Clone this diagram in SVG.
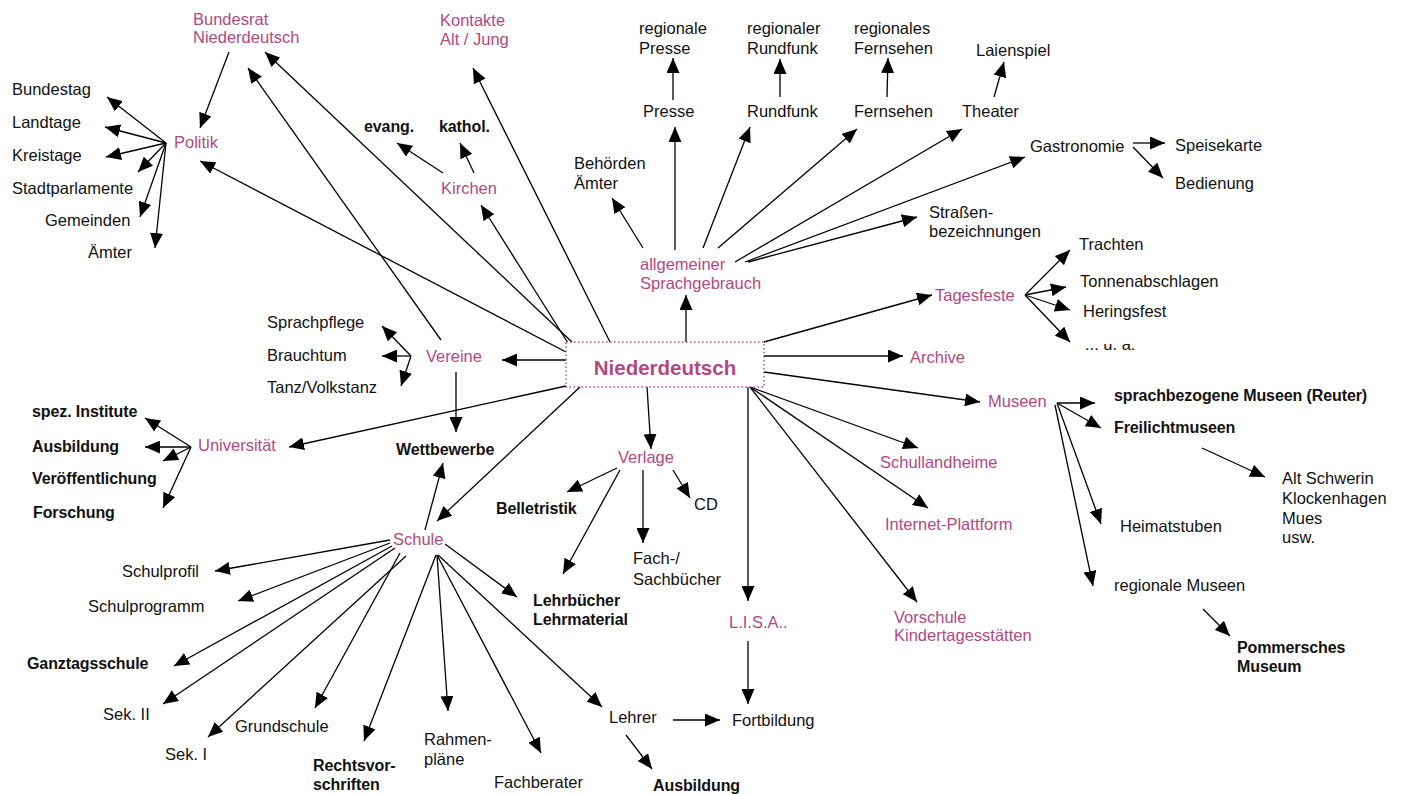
<svg xmlns="http://www.w3.org/2000/svg" width="1403" height="794" viewBox="0 0 1403 794">
<style>
text{font-family:"Liberation Sans",Arial,sans-serif;font-size:16.5px;fill:#111}
.p{fill:#b04a80}
.bb{font-weight:bold;font-size:16px;letter-spacing:-0.1px}
.t{font-weight:bold;font-size:20.5px;fill:#b04a80;text-anchor:middle}
#edges line{stroke:#000;stroke-width:1.3;marker-end:url(#ah)}
</style>
<defs>
<marker id="ah" markerUnits="userSpaceOnUse" markerWidth="15" markerHeight="13" refX="15" refY="6.5" orient="auto"><path d="M0,0 L15,6.5 L0,13 z" fill="#000"/></marker>
<clipPath id="cua"><rect x="1080" y="344" width="80" height="9"/></clipPath>
</defs>
<rect width="1403" height="794" fill="#fff"/>
<g id="edges">
<line x1="166" y1="143" x2="107" y2="97"/>
<line x1="166" y1="143" x2="105" y2="127"/>
<line x1="166" y1="143" x2="106" y2="157"/>
<line x1="166" y1="143" x2="138" y2="172"/>
<line x1="166" y1="143" x2="140" y2="217"/>
<line x1="166" y1="143" x2="155" y2="248"/>
<line x1="229" y1="52" x2="200" y2="128"/>
<line x1="566" y1="352" x2="200" y2="161"/>
<line x1="573" y1="343" x2="265" y2="52"/>
<line x1="441" y1="340" x2="248" y2="68"/>
<line x1="568" y1="343" x2="481" y2="205"/>
<line x1="610" y1="342" x2="473" y2="68"/>
<line x1="443" y1="173" x2="397" y2="143"/>
<line x1="474" y1="173" x2="460" y2="143"/>
<line x1="686" y1="342" x2="686" y2="295"/>
<line x1="643" y1="248" x2="612" y2="198"/>
<line x1="675" y1="250" x2="675" y2="127"/>
<line x1="673" y1="100" x2="673" y2="58"/>
<line x1="703" y1="248" x2="750" y2="127"/>
<line x1="780" y1="97" x2="780" y2="59"/>
<line x1="718" y1="248" x2="857" y2="129"/>
<line x1="887" y1="97" x2="888" y2="58"/>
<line x1="735" y1="262" x2="962" y2="129"/>
<line x1="994" y1="97" x2="1004" y2="62"/>
<line x1="745" y1="262" x2="1025" y2="157"/>
<line x1="748" y1="262" x2="917" y2="217"/>
<line x1="1133" y1="143" x2="1165" y2="143"/>
<line x1="1133" y1="147" x2="1163" y2="178"/>
<line x1="764" y1="342" x2="932" y2="295"/>
<line x1="1025" y1="295" x2="1070" y2="250"/>
<line x1="1025" y1="295" x2="1066" y2="287"/>
<line x1="1025" y1="295" x2="1070" y2="310"/>
<line x1="1025" y1="295" x2="1070" y2="342"/>
<line x1="764" y1="356" x2="903" y2="356"/>
<line x1="764" y1="372" x2="980" y2="402"/>
<line x1="1057" y1="403" x2="1095" y2="403"/>
<line x1="1057" y1="403" x2="1101" y2="428"/>
<line x1="1057" y1="403" x2="1101" y2="524"/>
<line x1="1055" y1="405" x2="1093" y2="586"/>
<line x1="1202" y1="448" x2="1265" y2="477"/>
<line x1="1203" y1="609" x2="1230" y2="636"/>
<line x1="750" y1="387" x2="918" y2="448"/>
<line x1="750" y1="387" x2="928" y2="508"/>
<line x1="750" y1="387" x2="917" y2="602"/>
<line x1="748" y1="387" x2="748" y2="601"/>
<line x1="748" y1="641" x2="748" y2="704"/>
<line x1="673" y1="720" x2="720" y2="720"/>
<line x1="626" y1="735" x2="652" y2="769"/>
<line x1="566" y1="360" x2="502" y2="360"/>
<line x1="411" y1="356" x2="382" y2="326"/>
<line x1="411" y1="356" x2="382" y2="356"/>
<line x1="411" y1="356" x2="401" y2="386"/>
<line x1="456" y1="372" x2="456" y2="432"/>
<line x1="425" y1="530" x2="443" y2="463"/>
<line x1="566" y1="386" x2="289" y2="447"/>
<line x1="191" y1="447" x2="145" y2="418"/>
<line x1="191" y1="447" x2="145" y2="447"/>
<line x1="191" y1="447" x2="163" y2="461"/>
<line x1="191" y1="447" x2="163" y2="508"/>
<line x1="580" y1="387" x2="437" y2="521"/>
<line x1="647" y1="387" x2="651" y2="449"/>
<line x1="617" y1="468" x2="567" y2="492"/>
<line x1="620" y1="470" x2="563" y2="574"/>
<line x1="643" y1="470" x2="643" y2="543"/>
<line x1="673" y1="470" x2="690" y2="498"/>
<line x1="390" y1="540" x2="215" y2="571"/>
<line x1="390" y1="543" x2="238" y2="601"/>
<line x1="392" y1="546" x2="174" y2="666"/>
<line x1="395" y1="548" x2="163" y2="704"/>
<line x1="406" y1="556" x2="208" y2="737"/>
<line x1="400" y1="553" x2="315" y2="708"/>
<line x1="436" y1="555" x2="364" y2="741"/>
<line x1="437" y1="555" x2="448" y2="711"/>
<line x1="437" y1="555" x2="541" y2="753"/>
<line x1="438" y1="555" x2="602" y2="707"/>
<line x1="445" y1="544" x2="517" y2="597"/>
</g>
<g id="n-center"><rect x="566" y="342" width="198" height="45" fill="#fff" stroke="#b04a80" stroke-width="1.4" stroke-dasharray="1.5,2.5"/><text class="t" x="665" y="375">Niederdeutsch</text></g>
<g id="n-bundesrat"><text class="p" x="193" y="25">Bundesrat</text><text class="p" x="193" y="43">Niederdeutsch</text></g>
<g id="n-politik"><text class="p" x="174" y="148">Politik</text></g>
<g id="n-bundestag"><text x="12" y="95">Bundestag</text></g>
<g id="n-landtage"><text x="12" y="128">Landtage</text></g>
<g id="n-kreistage"><text x="12" y="161">Kreistage</text></g>
<g id="n-stadtparl"><text x="12" y="194">Stadtparlamente</text></g>
<g id="n-gemeinden"><text x="45" y="226">Gemeinden</text></g>
<g id="n-aemter"><text x="88" y="258">Ämter</text></g>
<g id="n-kontakte"><text class="p" x="440" y="26">Kontakte</text><text class="p" x="440" y="45">Alt / Jung</text></g>
<g id="n-evang"><text class="bb" x="364" y="132">evang.</text></g>
<g id="n-kathol"><text class="bb" x="439" y="132">kathol.</text></g>
<g id="n-kirchen"><text class="p" x="441" y="194">Kirchen</text></g>
<g id="n-behoerden"><text x="574" y="169">Behörden</text><text x="574" y="189">Ämter</text></g>
<g id="n-regpresse"><text x="639" y="34">regionale</text><text x="639" y="54">Presse</text></g>
<g id="n-presse"><text x="643" y="117">Presse</text></g>
<g id="n-regrundfunk"><text x="747" y="34">regionaler</text><text x="747" y="54">Rundfunk</text></g>
<g id="n-rundfunk"><text x="747" y="117">Rundfunk</text></g>
<g id="n-regfernsehen"><text x="854" y="34">regionales</text><text x="854" y="54">Fernsehen</text></g>
<g id="n-fernsehen"><text x="854" y="117">Fernsehen</text></g>
<g id="n-laienspiel"><text x="976" y="56">Laienspiel</text></g>
<g id="n-theater"><text x="962" y="117">Theater</text></g>
<g id="n-gastronomie"><text x="1030" y="152">Gastronomie</text></g>
<g id="n-speisekarte"><text x="1175" y="151">Speisekarte</text></g>
<g id="n-bedienung"><text x="1175" y="189">Bedienung</text></g>
<g id="n-strassen"><text x="929" y="218">Straßen-</text><text x="929" y="237">bezeichnungen</text></g>
<g id="n-allgemein"><text class="p" x="640" y="270">allgemeiner</text><text class="p" x="640" y="289">Sprachgebrauch</text></g>
<g id="n-tagesfeste"><text class="p" x="935" y="301">Tagesfeste</text></g>
<g id="n-trachten"><text x="1079" y="250">Trachten</text></g>
<g id="n-tonnen"><text x="1080" y="287">Tonnenabschlagen</text></g>
<g id="n-herings"><text x="1083" y="317">Heringsfest</text></g>
<g id="n-ua"><text x="1085" y="350" clip-path="url(#cua)">... u. a.</text></g>
<g id="n-archive"><text class="p" x="910" y="363">Archive</text></g>
<g id="n-museen"><text class="p" x="988" y="407">Museen</text></g>
<g id="n-sprachmuseen"><text class="bb" x="1114" y="401">sprachbezogene Museen (Reuter)</text></g>
<g id="n-freilicht"><text class="bb" x="1114" y="433">Freilichtmuseen</text></g>
<g id="n-altschwerin"><text x="1282" y="484">Alt Schwerin</text><text x="1282" y="504">Klockenhagen</text><text x="1282" y="524">Mues</text><text x="1282" y="543">usw.</text></g>
<g id="n-heimatstuben"><text x="1120" y="532">Heimatstuben</text></g>
<g id="n-regmuseen"><text x="1114" y="591">regionale Museen</text></g>
<g id="n-pommersches"><text class="bb" x="1237" y="653">Pommersches</text><text class="bb" x="1237" y="672">Museum</text></g>
<g id="n-schulland"><text class="p" x="880" y="468">Schullandheime</text></g>
<g id="n-internet"><text class="p" x="885" y="530">Internet-Plattform</text></g>
<g id="n-vorschule"><text class="p" x="894" y="623">Vorschule</text><text class="p" x="894" y="641">Kindertagesstätten</text></g>
<g id="n-lisa"><text class="p" x="729" y="628">L.I.S.A..</text></g>
<g id="n-fortbildung"><text x="732" y="726">Fortbildung</text></g>
<g id="n-sprachpflege"><text x="267" y="328">Sprachpflege</text></g>
<g id="n-brauchtum"><text x="267" y="361">Brauchtum</text></g>
<g id="n-tanz"><text x="267" y="393">Tanz/Volkstanz</text></g>
<g id="n-vereine"><text class="p" x="426" y="362">Vereine</text></g>
<g id="n-wettbewerbe"><text class="bb" x="396" y="455">Wettbewerbe</text></g>
<g id="n-uni"><text class="p" x="198" y="451">Universität</text></g>
<g id="n-institute"><text class="bb" x="32" y="417">spez. Institute</text></g>
<g id="n-ausbildung-uni"><text class="bb" x="32" y="452">Ausbildung</text></g>
<g id="n-veroeff"><text class="bb" x="32" y="484">Veröffentlichung</text></g>
<g id="n-forschung"><text class="bb" x="33" y="518">Forschung</text></g>
<g id="n-verlage"><text class="p" x="618" y="463">Verlage</text></g>
<g id="n-belletristik"><text class="bb" x="496" y="514">Belletristik</text></g>
<g id="n-cd"><text x="694" y="510">CD</text></g>
<g id="n-fach"><text x="633" y="564">Fach-/</text><text x="633" y="585">Sachbücher</text></g>
<g id="n-lehrbuecher"><text class="bb" x="533" y="606">Lehrbücher</text><text class="bb" x="533" y="625">Lehrmaterial</text></g>
<g id="n-schule"><text class="p" x="393" y="545">Schule</text></g>
<g id="n-schulprofil"><text x="122" y="577">Schulprofil</text></g>
<g id="n-schulprogramm"><text x="88" y="612">Schulprogramm</text></g>
<g id="n-ganztag"><text class="bb" x="27" y="669">Ganztagsschule</text></g>
<g id="n-sek2"><text x="103" y="720">Sek. II</text></g>
<g id="n-sek1"><text x="165" y="760">Sek. I</text></g>
<g id="n-grundschule"><text x="235" y="732">Grundschule</text></g>
<g id="n-recht"><text class="bb" x="313" y="771">Rechtsvor-</text><text class="bb" x="313" y="790">schriften</text></g>
<g id="n-rahmen"><text x="424" y="745">Rahmen-</text><text x="424" y="765">pläne</text></g>
<g id="n-fachberater"><text x="494" y="788">Fachberater</text></g>
<g id="n-lehrer"><text x="609" y="723">Lehrer</text></g>
<g id="n-ausbildung-l"><text class="bb" x="653" y="791">Ausbildung</text></g>
</svg>
